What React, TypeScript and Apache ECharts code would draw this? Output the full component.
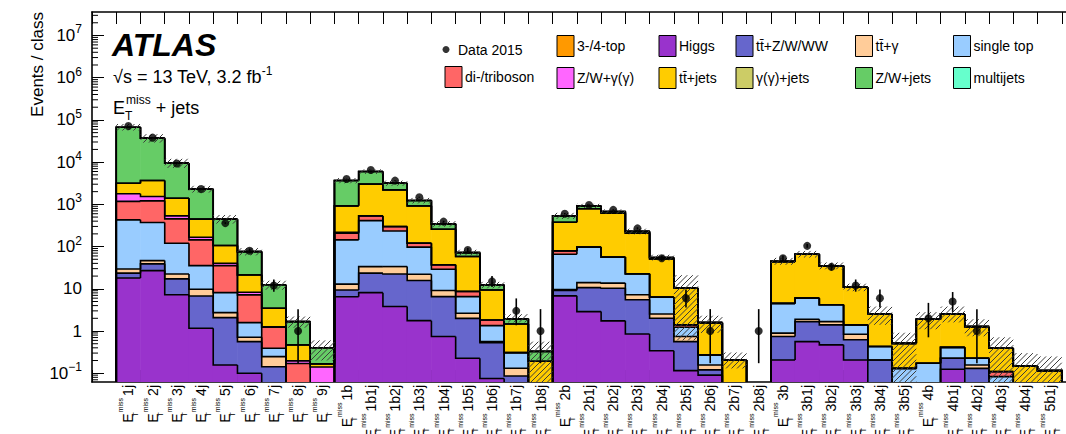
import React, { useEffect, useRef } from 'react';
import * as echarts from 'echarts';

const FONT = '"Liberation Sans", Arial, Helvetica, sans-serif';

// ---- bins (signal-region classes) ----
const binLabels = ['1j', '2j', '3j', '4j', '5j', '6j', '7j', '8j', '9j',
  '1b', '1b1j', '1b2j', '1b3j', '1b4j', '1b5j', '1b6j', '1b7j', '1b8j',
  '2b', '2b1j', '2b2j', '2b3j', '2b4j', '2b5j', '2b6j', '2b7j', '2b8j',
  '3b', '3b1j', '3b2j', '3b3j', '3b4j', '3b5j',
  '4b', '4b1j', '4b2j', '4b3j', '4b4j',
  '5b1j'];

// ---- MC components (events per class), stacked bottom -> top ----
const higgs = [18, 27, 7.2, 1.16, 0.157, 0.1, 0.05, 0.02, 0.01,
  6.5, 8.1, 3.8, 1.76, 0.74, 0.226, 0.075, 0.03, 0.005,
  6.8, 2.88, 1.74, 0.85, 0.34, 0.115, 0.09, 0.005, 0,
  0.206, 0.56, 0.47, 0.206, 0.03, 0.02,
  0.01, 0.124, 0.02, 0.01, 0,
  0];
const ttV = [5.5, 12, 10, 5.6, 1.92, 0.46, 0.093, 0.01, 0,
  2.9, 15.4, 18.7, 13.9, 5.8, 1.77, 0.455, 0.056, 0.01,
  2.3, 7.8, 8.6, 4.65, 1.66, 0.445, 0.03, 0.01, 0,
  0.534, 1.11, 0.93, 0.414, 0.176, 0.01,
  0.02, 0.102, 0.11, 0.01, 0.01,
  0.005];
const ttGamma = [6, 7.5, 5.3, 3.0, 0.65, 0.15, 0.104, 0.005, 0,
  3.5, 10.1, 11.1, 6.5, 2.6, 0.63, 0.03, 0.045, 0.005,
  0.5, 3.3, 3.3, 1.7, 0.54, 0.18, 0.037, 0, 0,
  0.15, 0.23, 0.27, 0.22, 0, 0,
  0, 0, 0.027, 0, 0,
  0];
const singleTop = [400, 325, 97, 25.7, 5.4, 0.87, 0.143, 0.005, 0,
  131, 379, 201, 75, 20, 3.9, 0.78, 0.17, 0.02,
  56.4, 83, 42.4, 15.3, 3.76, 0.49, 0.113, 0.01, 0,
  3.6, 4.1, 2.53, 0.56, 0.224, 0.1,
  0.143, 0.184, 0.069, 0.063, 0,
  0];
const diboson = [745, 840, 333, 108.5, 26.9, 5.6, 0.84, 0.13, 0.01,
  63, 120, 63, 23, 7.8, 2.1, 0.49, 0.01, 0.005,
  13, 1, 0.5, 0.3, 0.1, 0.17, 0, 0, 0,
  0.02, 0, 0, 0, 0, 0,
  0, 0, 0, 0.026, 0,
  0];
const zwGamma = [610, 320, 80, 23, 5, 1.1, 0.03, 0.026, 0.12,
  12, 2, 1, 0.5, 0.2, 0.05, 0, 0, 0,
  0.3, 0, 0, 0, 0, 0, 0, 0, 0,
  0, 0, 0, 0, 0, 0,
  0, 0, 0, 0, 0,
  0];
const ttJets = [1370, 2130, 867, 279, 66, 13.1, 2.21, 0.274, 0.027,
  703, 2475, 1910, 802, 221, 49.4, 7.57, 1.16, 0.148,
  299, 686, 561, 184, 44.6, 8.9, 1.31, 0.18, 0,
  39.5, 60, 30.8, 9.5, 2.11, 0.38,
  1.727, 2.13, 1.044, 0.281, 0.139,
  0.11];
const gammaJets = [0, 0, 0, 0, 0, 0, 0, 0, 0,
  0, 0, 0, 0, 0, 0, 0, 0, 0,
  0, 0, 0, 0, 0, 0, 0, 0, 0,
  0, 0, 0, 0, 0, 0,
  0, 0, 0, 0, 0,
  0];
const zwJets = [63900, 33340, 8060, 1844, 340, 54.6, 9.0, 1.2, 0.233,
  2740, 2970, 970, 308, 87, 14, 3.0, 0.47, 0.137,
  155, 137, 59, 22, 4, 0.05, 0, 0, 0,
  0.5, 0, 0, 0, 0, 0,
  0, 0, 0, 0, 0,
  0];
const multijets = [0, 0, 0, 0, 0, 0, 0, 0, 0,
  0, 0, 0, 0, 0, 0, 0, 0, 0,
  0, 0, 0, 0, 0, 0, 0, 0, 0,
  0, 0, 0, 0, 0, 0,
  0, 0, 0, 0, 0,
  0];
const fourTop = [0, 0, 0, 0, 0, 0, 0, 0, 0,
  0, 0, 0, 0, 0, 0, 0, 0, 0,
  0, 0, 0, 0, 0, 0, 0, 0, 0,
  0, 0, 0, 0, 0, 0,
  0, 0, 0, 0, 0,
  0];

// ---- total-uncertainty band (lower / upper edge) ----
const bandLow = [56000, 29000, 7300, 1900, 350, 62, 9.5, 1.2, 0.2,
  3150, 5250, 2750, 1050, 295, 61, 10.3, 1.6, 0.05,
  450, 820, 600, 195, 47, 0.6, 0.9, 0.13, null,
  37, 55, 29, 8.8, 1.4, 0.05,
  1.1, 1.6, 0.75, 0.05, 0.05,
  0.05];
const bandHigh = [80000, 46000, 12000, 2750, 560, 92, 15.5, 2.2, 0.6,
  4200, 6750, 3650, 1420, 400, 84, 14.6, 2.5, 0.56,
  630, 1030, 760, 265, 64, 21, 2.3, 0.31, null,
  54, 79, 42, 13.2, 3.8, 0.91,
  2.8, 3.8, 1.9, 0.71, 0.3,
  0.25];

// ---- data 2015 ----
const dataCounts = [72000, 38000, 9300, 2300, 360, 80, 12, 1, null,
  4000, 6500, 3650, 1480, 390, 83, 15, 3, 1,
  600, 970, 740, 270, 53, 6, 1, null, 1,
  53, 104, 33, 12, 6, null,
  2, 5, 1, null, null,
  null];
const dataErrLow = [71730, 37805, 9204, 2252, 341, 71.1, 8.55, 0.173, null,
  3937, 6419, 3590, 1442, 370, 74, 11.1, 1.37, 0.173,
  576, 939, 713, 254, 45.8, 3.62, 0.173, null, 0.173,
  45.8, 94, 27.3, 8.55, 3.62, null,
  0.71, 2.84, 0.173, null, null,
  null];
const dataErrHigh = [72270, 38195, 9396, 2348, 379, 89.9, 16.6, 3.3, null,
  4063, 6581, 3710, 1518, 410, 93, 20.1, 5.92, 3.3,
  624, 1001, 767, 287, 61.3, 9.58, 3.3, null, 3.3,
  61.3, 115, 39.3, 16.6, 9.58, null,
  4.64, 8.38, 3.3, null, null,
  null];

// ---- y axis ----
const yMin = 0.062;
const yMax = 3.6e7;
const minorDecades = [-2, -1, 0, 1, 2, 3, 4, 5, 6, 7];
const minorMultipliers = [2, 3, 4, 5, 6, 7, 8, 9];

const layers = [
  { name: 'Higgs', color: '#9933cc', values: higgs },
  { name: 't\u0074\u0304+Z/W/WW', color: '#6666cc', values: ttV },
  { name: 't\u0074\u0304+\u03b3', color: '#ffcc99', values: ttGamma },
  { name: 'single top', color: '#99ccff', values: singleTop },
  { name: 'di-/triboson', color: '#ff6666', values: diboson },
  { name: 'Z/W+\u03b3(\u03b3)', color: '#ff66ff', values: zwGamma },
  { name: 't\u0074\u0304+jets', color: '#ffcc00', values: ttJets },
  { name: '\u03b3(\u03b3)+jets', color: '#cccc66', values: gammaJets },
  { name: 'Z/W+jets', color: '#66cc66', values: zwJets },
  { name: 'multijets', color: '#66ffcc', values: multijets },
  { name: '3-/4-top', color: '#ff9900', values: fourTop },
];

const FLOOR = 1e-4;
const pos = (v: number) => (v > FLOOR ? v : FLOOR);
const empty = () => ({ type: 'group', children: [] });

function buildOption() {
  const categories = ['', ...binLabels, ''];
  const nBins = binLabels.length;

  // cumulative stacks
  let run = new Array(nBins).fill(0);
  const stack = layers.map((l) => {
    const lo = run.slice();
    run = run.map((r, i) => r + l.values[i]);
    return { lo, hi: run.slice() };
  });

  const layerSeries = layers.map((l, k) => ({
    type: 'custom',
    name: l.name,
    clip: true,
    z: 2,
    itemStyle: { color: l.color },
    encode: { x: 0, y: 2 },
    data: binLabels.map((_, i) => [i + 1, pos(stack[k].lo[i]), pos(stack[k].hi[i])]),
    renderItem: (params: any, api: any) => {
      const x = api.value(0), lo = api.value(1), hi = api.value(2);
      if (!(hi > lo * 1.0001)) return empty();
      const top = api.coord([x, hi]);
      const bot = api.coord([x, lo]);
      const w = api.size([1, 0])[0];
      return {
        type: 'rect',
        shape: { x: top[0] - w / 2 - 0.3, y: top[1], width: w + 0.6, height: bot[1] - top[1] },
        style: { fill: l.color },
      };
    },
  }));

  const outlineData: number[][] = [];
  layers.forEach((_, k) => {
    binLabels.forEach((__, i) => {
      outlineData.push([i + 1, pos(i > 0 ? stack[k].hi[i - 1] : 0), pos(stack[k].hi[i]), i === nBins - 1 ? 1 : 0]);
    });
  });

  const outlineSeries = {
    type: 'custom',
    name: 'outline',
    clip: true,
    z: 3,
    encode: { x: 0, y: 2 },
    data: outlineData,
    renderItem: (params: any, api: any) => {
      const x = api.value(0), prev = api.value(1), hi = api.value(2), last = api.value(3);
      const w = api.size([1, 0])[0];
      const c = api.coord([x, hi]);
      const cp = api.coord([x, prev]);
      const xl = c[0] - w / 2, xr = c[0] + w / 2;
      const pts = [[xl, cp[1]], [xl, c[1]], [xr, c[1]]];
      if (last) pts.push([xr, api.coord([x, FLOOR])[1]]);
      return { type: 'polyline', shape: { points: pts }, style: { stroke: '#000', lineWidth: 1.6, fill: 'none' } };
    },
  };

  const hatchData: number[][] = [];
  binLabels.forEach((_, i) => {
    const lo = bandLow[i], hi = bandHigh[i];
    if (lo != null && hi != null) hatchData.push([i + 1, lo, hi]);
  });
  const hatchSeries = {
    type: 'custom',
    name: 'uncertainty',
    clip: true,
    z: 4,
    encode: { x: 0, y: 2 },
    data: hatchData,
    renderItem: (params: any, api: any) => {
      const x = api.value(0), lo = api.value(1), hi = api.value(2);
      const cs = params.coordSys;
      const w = api.size([1, 0])[0];
      const ct = api.coord([x, hi]);
      const cb = api.coord([x, lo]);
      const x0 = ct[0] - w / 2, x1 = ct[0] + w / 2;
      const y0 = Math.max(ct[1], cs.y), y1 = Math.min(cb[1], cs.y + cs.height);
      const children: any[] = [];
      const P = 5.5;
      for (let c = Math.ceil((x0 + y0) / P) * P; c <= x1 + y1; c += P) {
        const xa = Math.max(x0, c - y1), xb = Math.min(x1, c - y0);
        if (xb > xa) {
          children.push({ type: 'line', shape: { x1: xa, y1: c - xa, x2: xb, y2: c - xb }, style: { stroke: '#3c3c3c', lineWidth: 1 } });
        }
      }
      return { type: 'group', children };
    },
  };

  const errData: number[][] = [];
  const dotData: number[][] = [];
  binLabels.forEach((_, i) => {
    const n = dataCounts[i];
    if (n != null) {
      dotData.push([i + 1, n]);
      errData.push([i + 1, dataErrLow[i] as number, dataErrHigh[i] as number]);
    }
  });
  const errSeries = {
    type: 'custom',
    name: 'dataErr',
    clip: true,
    z: 5,
    encode: { x: 0, y: 2 },
    data: errData,
    renderItem: (params: any, api: any) => {
      const x = api.value(0);
      const a = api.coord([x, api.value(1)]);
      const b = api.coord([x, api.value(2)]);
      return { type: 'line', shape: { x1: a[0], y1: a[1], x2: b[0], y2: b[1] }, style: { stroke: '#000', lineWidth: 1.6 } };
    },
  };
  const dotSeries = {
    type: 'scatter',
    name: 'Data 2015',
    z: 6,
    symbol: 'circle',
    symbolSize: 8,
    itemStyle: { color: '#000' },
    data: dotData,
  };

  const minorData: number[][] = [];
  minorDecades.forEach((d) => minorMultipliers.forEach((m) => {
    const v = m * Math.pow(10, d);
    if (v > yMin && v < yMax) minorData.push([0, v]);
  }));
  const minorSeries = {
    type: 'custom',
    name: 'minorTicks',
    clip: false,
    z: 7,
    encode: { x: 0, y: 1 },
    data: minorData,
    renderItem: (params: any, api: any) => {
      const p = api.coord([0, api.value(1)]);
      const cs = params.coordSys;
      return { type: 'line', shape: { x1: cs.x, y1: p[1], x2: cs.x + 6, y2: p[1] }, style: { stroke: '#000', lineWidth: 1 } };
    },
  };

  const legendCommon = {
    orient: 'vertical',
    padding: 0,
    itemGap: 10,
    itemWidth: 17,
    itemHeight: 21,
    selectedMode: false,
    icon: 'rect',
    itemStyle: { borderColor: '#000', borderWidth: 1 },
    textStyle: { fontSize: 14, color: '#000', fontFamily: FONT, padding: [0, 0, 0, -2] },
  };

  const labelRich = {
    e: { fontSize: 14, fontFamily: FONT, color: '#000', lineHeight: 22 },
    t: { fontSize: 7, fontFamily: FONT, color: '#000', lineHeight: 10, verticalAlign: 'bottom', width: 1 },
    m: { fontSize: 7, fontFamily: FONT, color: '#000', lineHeight: 10, verticalAlign: 'top' },
    n: { fontSize: 14, fontFamily: FONT, color: '#000', lineHeight: 22, padding: [0, 0, 0, 2] },
  };

  return {
    animation: false,
    backgroundColor: '#fff',
    grid: { left: 92, top: 12, width: 994, height: 370, containLabel: false, outerBoundsMode: 'none' },
    xAxis: [
      {
        type: 'category',
        data: categories,
        boundaryGap: true,
        position: 'bottom',
        axisLine: { show: true, lineStyle: { color: '#000', width: 1.6 } },
        axisTick: { show: true, inside: true, length: 12, interval: 0, lineStyle: { color: '#000', width: 1 } },
        axisLabel: {
          interval: 0,
          rotate: 90,
          margin: 3,
          formatter: (v: string) => (v ? `{e|E}{t|T}{m|miss}{n|${v}}` : ''),
          rich: labelRich,
        },
        splitLine: { show: false },
      },
      {
        type: 'category',
        data: categories,
        boundaryGap: true,
        position: 'top',
        axisLine: { show: true, lineStyle: { color: '#000', width: 1.6 } },
        axisTick: { show: true, inside: true, length: 12, interval: 0, lineStyle: { color: '#000', width: 1 } },
        axisLabel: { show: false },
        splitLine: { show: false },
      },
    ],
    yAxis: {
      type: 'log',
      logBase: 10,
      min: yMin,
      max: yMax,
      axisLine: { show: true, lineStyle: { color: '#000', width: 1.6 } },
      axisTick: { show: true, inside: true, length: 12, lineStyle: { color: '#000', width: 1 } },
      splitLine: { show: false },
      axisLabel: {
        margin: 10,
        showMinLabel: false,
        showMaxLabel: false,
        formatter: (v: number) => {
          const l = Math.log10(v);
          const e = Math.round(l);
          if (Math.abs(l - e) > 1e-6) return '';
          if (e === 0) return '{b|1}';
          if (e === 1) return '{b|10}';
          return `{b|10}{s|${e < 0 ? '\u2212' + -e : e}}`;
        },
        rich: {
          b: { fontSize: 17, fontFamily: FONT, color: '#000', lineHeight: 24 },
          s: { fontSize: 12, fontFamily: FONT, color: '#000', lineHeight: 13, verticalAlign: 'top' },
        },
      },
    },
    legend: [
      { ...legendCommon, data: [{ name: 'Data 2015', icon: 'circle' }], left: 442.5, top: 42.5, itemWidth: 18, itemHeight: 7, itemStyle: { borderWidth: 0 } },
      { ...legendCommon, data: ['di-/triboson'], left: 444.5, top: 66 },
      { ...legendCommon, data: ['3-/4-top', 'Z/W+\u03b3(\u03b3)'], left: 556.5, top: 35 },
      { ...legendCommon, data: ['Higgs', 't\u0074\u0304+jets'], left: 658.5, top: 35 },
      { ...legendCommon, data: ['t\u0074\u0304+Z/W/WW', '\u03b3(\u03b3)+jets'], left: 735.5, top: 35 },
      { ...legendCommon, data: ['t\u0074\u0304+\u03b3', 'Z/W+jets'], left: 855, top: 35 },
      { ...legendCommon, data: ['single top', 'multijets'], left: 953, top: 35 },
    ],
    graphic: [
      {
        type: 'text', x: 37, y: 12, rotation: Math.PI / 2, z: 10,
        style: { text: 'Events / class', fontSize: 17, fontFamily: FONT, fill: '#000', align: 'right', textAlign: 'right', verticalAlign: 'middle', textVerticalAlign: 'middle' },
      },
      {
        type: 'text', x: 112, y: 45, z: 10,
        style: { text: 'ATLAS', fontSize: 32, fontWeight: 'bold', fontStyle: 'italic', fontFamily: FONT, fill: '#000', verticalAlign: 'middle', textVerticalAlign: 'middle' },
      },
      {
        type: 'text', x: 113, y: 77, z: 10,
        style: {
          text: '{a|\u221As = 13 TeV, 3.2 fb}{s|-1}',
          verticalAlign: 'middle', textVerticalAlign: 'middle',
          rich: {
            a: { fontSize: 18, fontFamily: FONT, fill: '#000', color: '#000', lineHeight: 24 },
            s: { fontSize: 12, fontFamily: FONT, fill: '#000', color: '#000', lineHeight: 13, verticalAlign: 'top' },
          },
        },
      },
      {
        type: 'text', x: 113, y: 108, z: 10,
        style: {
          text: '{e|E}{t|T}{m|miss}{n| + jets}',
          verticalAlign: 'middle', textVerticalAlign: 'middle',
          rich: {
            e: { fontSize: 18, fontFamily: FONT, fill: '#000', color: '#000', lineHeight: 28 },
            t: { fontSize: 12, fontFamily: FONT, fill: '#000', color: '#000', lineHeight: 14, verticalAlign: 'bottom', width: 1 },
            m: { fontSize: 12, fontFamily: FONT, fill: '#000', color: '#000', lineHeight: 14, verticalAlign: 'top' },
            n: { fontSize: 18, fontFamily: FONT, fill: '#000', color: '#000', lineHeight: 28 },
          },
        },
      },
    ],
    series: [...layerSeries, outlineSeries, hatchSeries, errSeries, dotSeries, minorSeries],
  };
}

export default function App() {
  const ref = useRef<HTMLDivElement>(null);
  useEffect(() => {
    document.body.style.margin = '0';
    const chart = echarts.init(ref.current as HTMLDivElement, null, { renderer: 'svg' });
    chart.setOption(buildOption() as any, true);
    return () => chart.dispose();
  }, []);
  return <div ref={ref} style={{ width: 1066, height: 434, overflow: 'hidden' }} />;
}
